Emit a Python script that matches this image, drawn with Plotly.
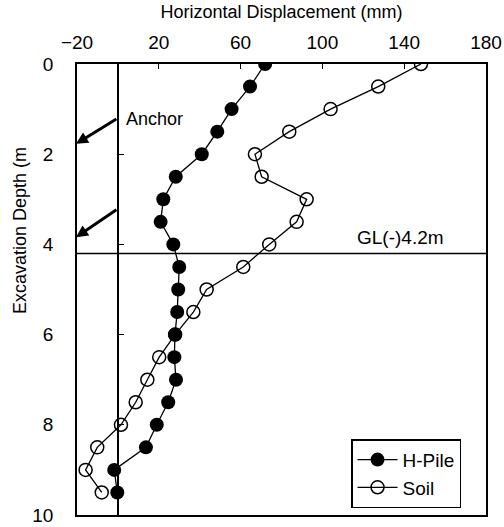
import plotly.graph_objects as go

# Data
depth_pile = [0, 0.5, 1.0, 1.5, 2.0, 2.5, 3.0, 3.5, 4.0, 4.5, 5.0, 5.5, 6.0, 6.5, 7.0, 7.5, 8.0, 8.5, 9.0, 9.5]
disp_pile = [72, 64.6, 55.6, 48.6, 41, 28.3, 22.2, 20.9, 27.1, 30, 29.5, 29, 27.9, 27.6, 28.4, 24.6, 19, 13.7, -1.8, -0.3]

depth_soil = [0, 0.5, 1.0, 1.5, 2.0, 2.5, 3.0, 3.5, 4.0, 4.5, 5.0, 5.5, 6.0, 6.5, 7.0, 7.5, 8.0, 8.5, 9.0, 9.5]
disp_soil = [148.2, 127.3, 104, 83.8, 67, 70.3, 92.3, 87.4, 74, 61.3, 43.4, 36.9, 28, 20.2, 14.4, 8.7, 1.5, -10.1, -15.8, -7.9]

x_ticks = [-20, 20, 60, 100, 140, 180]
y_ticks = [0, 2, 4, 6, 8, 10]
gl_depth = 4.2
anchor_depths = [1.77, 3.84]      # arrow head depths
anchor_tail_depths = [1.2, 3.21]  # arrow tail depths

FONT = "Liberation Sans, Arial, sans-serif"

fig = go.Figure()

fig.add_trace(go.Scatter(
    x=disp_soil, y=depth_soil, name="Soil", mode="lines+markers",
    line=dict(color="black", width=1.3),
    marker=dict(symbol="circle-open", size=13, color="black", line=dict(width=1.5)),
))
fig.add_trace(go.Scatter(
    x=disp_pile, y=depth_pile, name="H-Pile", mode="lines+markers",
    line=dict(color="black", width=1.3),
    marker=dict(symbol="circle", size=14, color="black"),
))
# dummy trace for the inner y-axis at x = 0
fig.add_trace(go.Scatter(x=[None], y=[None], yaxis="y2", showlegend=False, hoverinfo="skip"))

fig.add_shape(type="line", xref="paper", x0=0, x1=1, yref="y", y0=gl_depth, y1=gl_depth,
              line=dict(color="black", width=1.5))

for yh, yt in zip(anchor_depths, anchor_tail_depths):
    fig.add_annotation(x=-20.5, y=yh, ax=0, ay=yt, xref="x", yref="y", axref="x", ayref="y",
                       text="", showarrow=True, arrowhead=2, arrowsize=0.8, arrowwidth=3,
                       arrowcolor="black")

fig.add_annotation(x=3, y=1.22, xref="x", yref="y", text="Anchor", showarrow=False,
                   xanchor="left", yanchor="middle", font=dict(size=18, family=FONT, color="#000000"))
fig.add_annotation(x=116, y=3.84, xref="x", yref="y", text="GL(-)4.2m", showarrow=False,
                   xanchor="left", yanchor="middle", font=dict(size=19, family=FONT, color="#000000"))
fig.add_annotation(x=-0.139, y=0.63, xref="paper", yref="paper", text="Excavation Depth (m",
                   textangle=-90, showarrow=False, xanchor="center", yanchor="middle",
                   font=dict(size=18, family=FONT, color="#000000"))

fig.update_layout(
    width=504, height=527,
    margin=dict(l=77, r=18, t=64, b=12),
    paper_bgcolor="white", plot_bgcolor="white",
    font=dict(family=FONT, size=18, color="#000000"),
    showlegend=True,
    legend=dict(x=0.67, y=0.168, xanchor="left", yanchor="top",
                bordercolor="black", borderwidth=1.5, bgcolor="white",
                itemwidth=40,
                font=dict(size=19, family=FONT, color="#000000"),
                traceorder="reversed"),
    xaxis=dict(
        side="top", range=[-20, 180], tickvals=x_ticks, automargin=False,
        ticks="inside", ticklen=5, tickcolor="black",
        showline=True, linecolor="black", linewidth=1.5, mirror=True,
        showgrid=False, zeroline=True, zerolinecolor="black", zerolinewidth=1.5,
        ticklabelstandoff=6, tickfont=dict(size=19),
        title=dict(text="Horizontal Displacement (mm)", font=dict(size=18), standoff=8),
    ),
    yaxis=dict(
        range=[10, 0], tickvals=y_ticks, ticks="", automargin=False,
        showline=True, linecolor="black", linewidth=1.5, mirror=True,
        showgrid=False, zeroline=False, ticklabelstandoff=18, tickfont=dict(size=19),
    ),
    yaxis2=dict(
        overlaying="y", anchor="free", position=0.1, side="left", automargin=False,
        range=[10, 0], tickvals=[2, 4, 6, 8], ticks="inside", ticklen=5, tickcolor="black",
        showticklabels=False, showline=False, showgrid=False, zeroline=False,
    ),
)

fig.write_html("out.html")
